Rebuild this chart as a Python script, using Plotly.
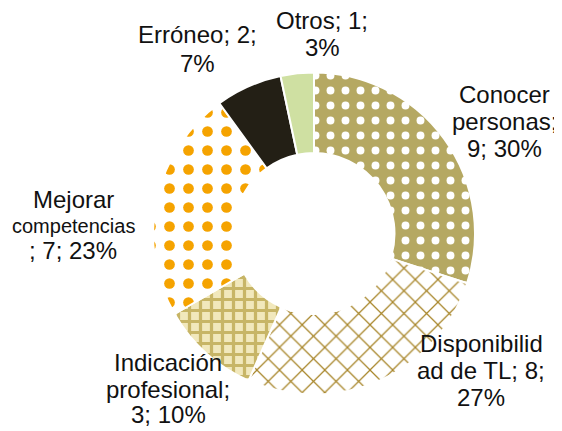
import plotly.graph_objects as go

# Data (clockwise from 12 o'clock)
labels = ["Conocer personas", "Disponibilidad de TL", "Indicación profesional",
          "Mejorar competencias", "Erróneo", "Otros"]
counts = [9, 8, 3, 7, 2, 1]
percents = [30, 27, 10, 23, 7, 3]

# Label text lines as wrapped in the original chart
label_lines = [
    ["Conocer", "personas;", "9; 30%"],
    ["Disponibilid", "ad de TL; 8;", "27%"],
    ["Indicación", "profesional;", "3; 10%"],
    ["Mejorar", "competencias", "; 7; 23%"],
    ["Erróneo; 2;", "7%"],
    ["Otros; 1;", "3%"],
]

# page body has an 8px default margin, so the figure is drawn 8px smaller
OFF = 8
W, H = 562 - OFF, 431 - OFF
FONT = "Liberation Sans, Arial, sans-serif"


def px_x(x):
    return (x - OFF) / W


def px_y(y):
    return 1 - (y - OFF) / H


# Slice styles
bg_colors = ["#B5A862", "#FFFFFF", "#F1E8BC", "#FFFFFF", "#231F15", "#CFE0A2"]
fg_colors = ["#FFFFFF", "#A8862A", "#C7B566", "#F5A300", "#231F15", "#CFE0A2"]
shapes = [".", "x", "+", ".", "", ""]
sizes = [15, 16, 11, 19, 8, 8]
solidity = [0.22, 0.15, 0.5, 0.25, 0.3, 0.3]

fig = go.Figure()

fig.add_trace(go.Pie(
    labels=labels,
    values=counts,
    sort=False,
    direction="clockwise",
    rotation=0,
    hole=0.5,
    textinfo="none",
    showlegend=False,
    domain=dict(x=[px_x(153), px_x(475)], y=[px_y(395), px_y(72)]),
    marker=dict(
        colors=bg_colors,
        line=dict(color="white", width=2),
        pattern=dict(shape=shapes, fgcolor=fg_colors, bgcolor=bg_colors,
                     fgopacity=1, size=sizes, solidity=solidity,
                     fillmode="overlay"),
    ),
))

# Label placement: centre x and the centre y of each line (screen pixels)
label_x = [504, 481, 168, 73, 197, 322]
label_line_y = [[95, 122, 149], [343, 370, 397], [362, 389, 414],
                [199, 226, 250], [35, 64], [20, 47]]

for lines, px, ys in zip(label_lines, label_x, label_line_y):
    for line, py in zip(lines, ys):
        size = 20 if line == "competencias" else 24
        fig.add_annotation(
            text=line,
            xref="paper", yref="paper",
            x=px_x(px), y=px_y(py),
            xanchor="center", yanchor="middle",
            showarrow=False,
            font=dict(family=FONT, size=size, color="#111111"),
        )

fig.update_layout(
    width=W, height=H,
    margin=dict(l=0, r=0, t=0, b=0),
    paper_bgcolor="white",
    plot_bgcolor="white",
)

fig.write_html("out.html")
